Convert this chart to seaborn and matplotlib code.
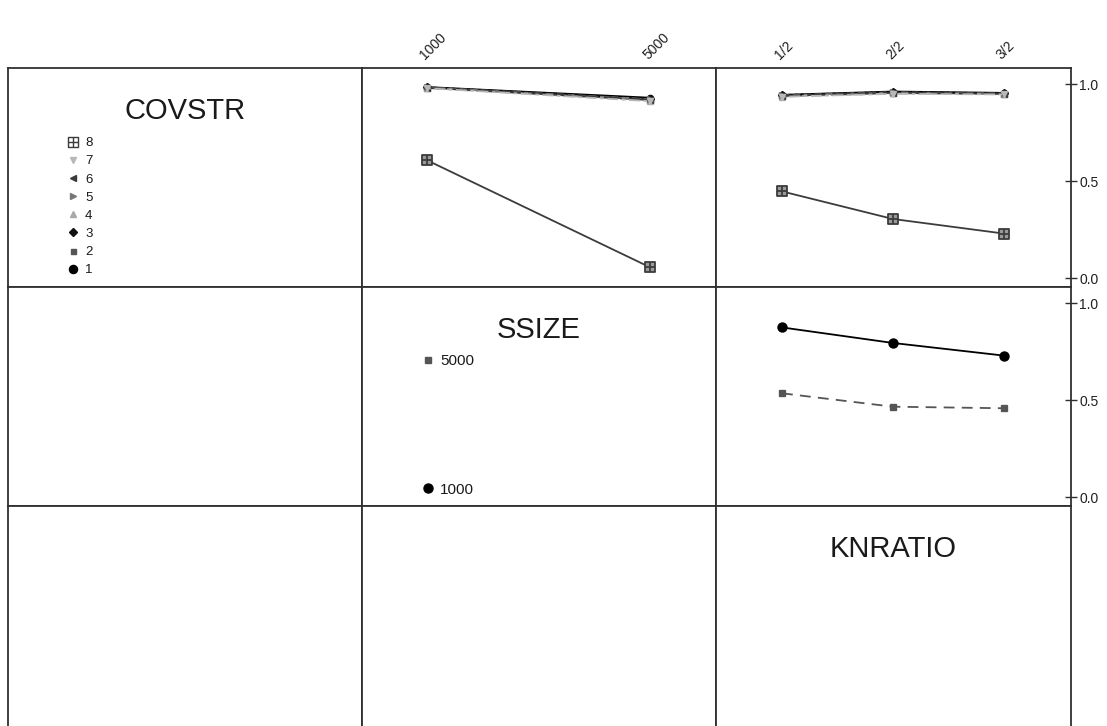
import matplotlib
matplotlib.use("Agg")
import matplotlib.pyplot as plt
import pandas as pd
import seaborn as sns
from matplotlib.lines import Line2D
from matplotlib.path import Path

sns.set_theme(style="white")
plt.rcParams['font.family'] = ['Liberation Sans', 'DejaVu Sans']

# Factor levels
covstr_levels = ["1", "2", "3", "4", "5", "6", "7", "8"]
ssize_levels = ["1000", "5000"]
knratio_levels = ["1/2", "2/2", "3/2"]

# Mean response, COVSTR x SSIZE
covstr_ssize = {
    "1": [0.985, 0.930],
    "2": [0.982, 0.918],
    "3": [0.984, 0.925],
    "4": [0.980, 0.915],
    "5": [0.983, 0.922],
    "6": [0.981, 0.920],
    "7": [0.979, 0.912],
    "8": [0.608, 0.057],
}

# Mean response, COVSTR x KNRATIO
covstr_knratio = {
    "1": [0.945, 0.962, 0.955],
    "2": [0.938, 0.955, 0.950],
    "3": [0.944, 0.960, 0.953],
    "4": [0.936, 0.952, 0.948],
    "5": [0.942, 0.958, 0.951],
    "6": [0.940, 0.956, 0.950],
    "7": [0.935, 0.950, 0.947],
    "8": [0.448, 0.306, 0.231],
}

# Mean response, SSIZE x KNRATIO
ssize_knratio = {
    "1000": [0.875, 0.795, 0.730],
    "5000": [0.536, 0.467, 0.459],
}

y_ticks = [0.0, 0.5, 1.0]
y_tick_labels = ["0.0", "0.5", "1.0"]

# Boxed-cross symbol
box_cross = Path(
    [(-1, -1), (1, -1), (1, 1), (-1, 1), (-1, -1), (0, -1), (0, 1), (-1, 0), (1, 0)],
    [Path.MOVETO, Path.LINETO, Path.LINETO, Path.LINETO, Path.CLOSEPOLY,
     Path.MOVETO, Path.LINETO, Path.MOVETO, Path.LINETO],
)

# Symbol / line styles for each level
cov_style = {
    "1": dict(color="#000000", marker="o", ls="-", ms=6.5, plot_ms=4.5),
    "2": dict(color="#555555", marker="s", ls=(0, (6, 3)), ms=4.0, plot_ms=4.5),
    "3": dict(color="#111111", marker="D", ls=(0, (1.5, 2)), ms=4.5, plot_ms=4.0),
    "4": dict(color="#a8a8a8", marker="^", ls=(0, (8, 3, 2, 3)), ms=4.5, plot_ms=4.0),
    "5": dict(color="#777777", marker=">", ls=(0, (4, 2)), ms=4.5, plot_ms=4.0),
    "6": dict(color="#3a3a3a", marker="<", ls=(0, (10, 4)), ms=4.5, plot_ms=4.0),
    "7": dict(color="#b8b8b8", marker="v", ls=(0, (2, 2, 6, 2)), ms=4.5, plot_ms=4.0),
    "8": dict(color="#3c3c3c", marker=box_cross, ls="-", ms=7.0, plot_ms=7.5, mfc="#9a9a9a"),
}
ssize_style = {
    "1000": dict(color="#000000", marker="o", ls="-", ms=6.5, plot_ms=6.5),
    "5000": dict(color="#555555", marker="s", ls=(0, (6, 4)), ms=3.8, plot_ms=3.8),
}

W, H = 1107, 726
fig = plt.figure(figsize=(W / 100, H / 100), dpi=100)
fig.patch.set_facecolor("white")

col_x = [8, 362, 716]
col_w = [354, 354, 355]
row_y = [68, 287, 506]
row_h = [219, 219, 226]

axes = {}
for r in range(3):
    for c in range(3):
        rect = [col_x[c] / W, 1 - (row_y[r] + row_h[r]) / H, col_w[c] / W, row_h[r] / H]
        ax = fig.add_axes(rect)
        ax.set_facecolor("white")
        for sp in ax.spines.values():
            sp.set_color("#303030")
            sp.set_linewidth(1.3)
        axes[(r, c)] = ax


def draw_series(ax, order, values, style, zorder):
    df = pd.DataFrame({"level": order, "mean": values})
    extra = {}
    if "mfc" in style:
        extra["markerfacecolor"] = style["mfc"]
        extra["markeredgewidth"] = 1.3
    sns.pointplot(data=df, x="level", y="mean", order=order, color=style["color"],
                  marker=style["marker"], linestyle=style["ls"], markersize=style["plot_ms"],
                  linewidth=1.3, errorbar=None, ax=ax, zorder=zorder, **extra)


ylim = (-0.044, 1.083)

# COVSTR x SSIZE
ax = axes[(0, 1)]
for i, lvl in enumerate(covstr_levels):
    draw_series(ax, ssize_levels, covstr_ssize[lvl], cov_style[lvl], 3 + i * 0.1)
ax.set_xlim(-0.292, 1.295)
ax.set_ylim(*ylim)
ax.set_xticks(range(len(ssize_levels)))
ax.set_xticklabels(ssize_levels)

# COVSTR x KNRATIO
ax = axes[(0, 2)]
for i, lvl in enumerate(covstr_levels):
    draw_series(ax, knratio_levels, covstr_knratio[lvl], cov_style[lvl], 3 + i * 0.1)
ax.set_xlim(-0.595, 2.605)
ax.set_ylim(*ylim)
ax.set_xticks(range(len(knratio_levels)))
ax.set_xticklabels(knratio_levels)

# SSIZE x KNRATIO
ax = axes[(1, 2)]
for lvl in ssize_levels:
    draw_series(ax, knratio_levels, ssize_knratio[lvl], ssize_style[lvl], 3)
ax.set_xlim(-0.595, 2.605)
ax.set_ylim(*ylim)

for key, ax in axes.items():
    ax.set_xlabel("")
    ax.set_ylabel("")
    ax.grid(False)
    if key not in [(0, 1), (0, 2)]:
        ax.set_xticks([])
    if key not in [(0, 2), (1, 2)]:
        ax.set_yticks([])

# Category labels along the top
for key in [(0, 1), (0, 2)]:
    ax = axes[key]
    ax.xaxis.set_ticks_position("top")
    ax.tick_params(axis="x", which="both", length=0, pad=4, labelsize=10,
                   labelcolor="#202020", top=True, bottom=False, labeltop=True, labelbottom=False)
    for t in ax.get_xticklabels():
        t.set_rotation(45)
        t.set_ha("left")
        t.set_va("bottom")
        t.set_rotation_mode("anchor")

# Response scale on the right
for key in [(0, 2), (1, 2)]:
    ax = axes[key]
    ax.yaxis.set_ticks_position("right")
    ax.set_yticks(y_ticks)
    ax.set_yticklabels(y_tick_labels)
    ax.tick_params(axis="y", which="both", direction="inout", length=8, width=1.0,
                   color="#303030", labelsize=10, labelcolor="#202020", pad=2,
                   right=True, left=False, labelright=True, labelleft=False)

# Factor names on the diagonal
titles = {(0, 0): "COVSTR", (1, 1): "SSIZE", (2, 2): "KNRATIO"}
for (r, c), name in titles.items():
    ax = axes[(r, c)]
    ax.text(0.5, 1 - 43 / row_h[r], name, transform=ax.transAxes, ha="center",
            va="center", fontsize=21, color="#1a1a1a")

# Level keys
cov_handles = []
for l in reversed(covstr_levels):
    st = cov_style[l]
    kw = dict(linestyle="None", marker=st["marker"], color=st["color"],
              markersize=st["ms"] * 0.9)
    if "mfc" in st:
        kw.update(markerfacecolor="white", markeredgewidth=1.0, markersize=st["ms"])
    cov_handles.append(Line2D([], [], **kw))
leg = fig.legend(cov_handles, list(reversed(covstr_levels)), loc="upper left",
                 bbox_to_anchor=(66 / W, 1 - 137 / H), frameon=False, fontsize=9.5,
                 handlelength=1.0, handletextpad=0.45, labelspacing=0.45,
                 borderpad=0, borderaxespad=0)
for t in leg.get_texts():
    t.set_color("#1a1a1a")

ss_handles = [Line2D([], [], linestyle="None", marker=ssize_style[l]["marker"],
                     color=ssize_style[l]["color"], markersize=ssize_style[l]["ms"])
              for l in reversed(ssize_levels)]
leg2 = fig.legend(ss_handles, list(reversed(ssize_levels)), loc="upper left",
                  bbox_to_anchor=(422 / W, 1 - 354 / H), frameon=False, fontsize=11,
                  handlelength=0.8, handletextpad=0.4, labelspacing=7.5,
                  borderpad=0, borderaxespad=0)
for t in leg2.get_texts():
    t.set_color("#1a1a1a")

fig.savefig("out.png", dpi=100, facecolor="white")
